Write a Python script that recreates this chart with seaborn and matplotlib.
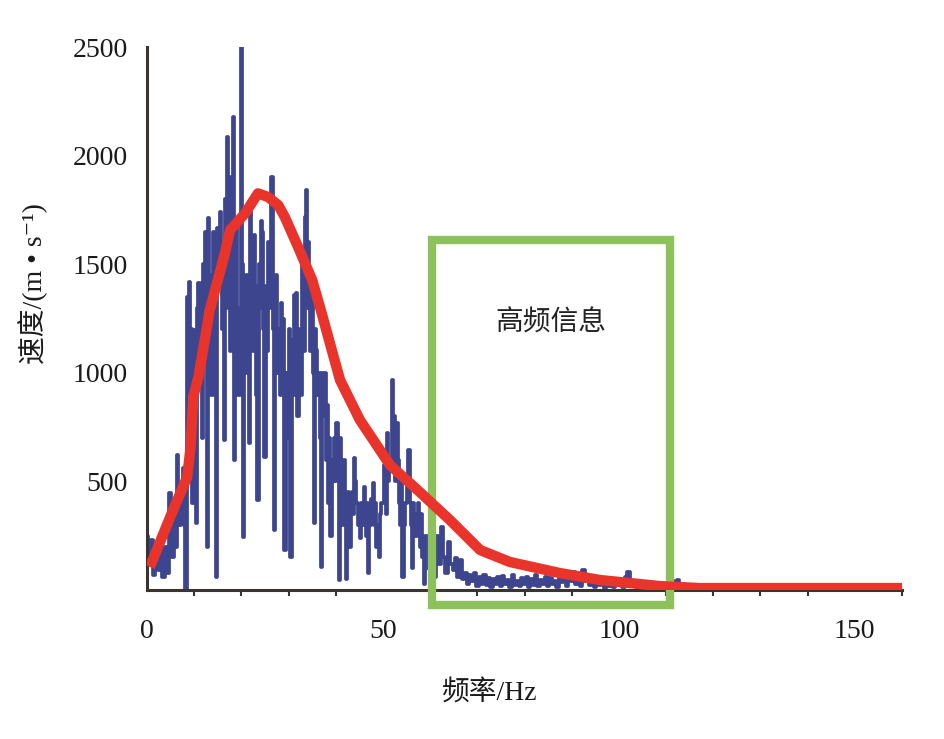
import numpy as np
import pandas as pd
import matplotlib
matplotlib.use("Agg")
import matplotlib.pyplot as plt
import matplotlib.patches as patches
import seaborn as sns

# --- data ---
# blue spectrum: 0-5 Hz every 0.5 Hz
spec_low = [250, 130, 230, 70, 200, 90, 240, 60, 200, 80]
# 5-60 Hz every 0.25 Hz
spec_mid = [
    445, 300, 150, 380, 250, 200, 620, 400, 300, 480,
    350, 560, 300, 0, 1350, 1000, 1420, 900, 1200, 400,
    1197, 1100, 308, 1300, 1413, 1000, 1200, 700, 1500, 1300,
    1648, 198, 1713, 1200, 1450, 900, 1650, 1300, 1100, 60,
    1667, 1400, 1740, 1500, 1200, 1500, 690, 1800, 2086, 1300,
    1600, 1100, 1900, 2178, 600, 1400, 1700, 1100, 900, 1300,
    2500, 1500, 245, 1300, 1450, 1000, 1200, 675, 1763, 1300,
    1100, 1634, 1400, 900, 414, 1500, 1300, 1700, 1648, 1200,
    612, 1400, 1100, 1600, 1300, 1500, 1900, 1200, 276, 1300,
    1450, 1000, 1200, 900, 1321, 1100, 1250, 184, 1000, 700,
    1000, 1200, 152, 1150, 900, 1358, 1100, 1367, 800, 1000,
    1200, 900, 1500, 1100, 1717, 1842, 1300, 1600, 1470, 1100,
    1413, 1000, 308, 1200, 1105, 900, 1000, 700, 106, 1000,
    800, 1000, 600, 850, 400, 700, 250, 600, 500, 700,
    500, 768, 600, 46, 700, 500, 300, 600, 350, 50,
    300, 450, 200, 400, 450, 350, 607, 500, 400, 300,
    350, 240, 400, 300, 475, 350, 250, 400, 80, 300,
    420, 350, 492, 300, 400, 200, 300, 150, 350, 400,
    400, 575, 450, 350, 722, 500, 600, 550, 967, 700,
    800, 500, 768, 600, 400, 300, 500, 60, 300, 400,
    400, 500, 645, 400, 300, 100, 400, 350, 250, 350,
    400, 300, 200, 350, 150, 30, 250, 200, 100, 250,
]
# 60-115 Hz every 0.5 Hz
spec_high = [
    100, 200, 60, 250, 120, 290, 150, 80, 220, 120,
    90, 147, 60, 140, 50, 80, 30, 70, 40, 80,
    20, 60, 30, 70, 25, 55, 15, 50, 30, 60,
    20, 65, 30, 45, 15, 70, 25, 40, 20, 55,
    30, 60, 15, 50, 25, 70, 20, 45, 30, 60,
    20, 55, 30, 40, 15, 65, 35, 50, 20, 60,
    40, 83, 30, 60, 20, 92, 40, 50, 25, 45,
    15, 40, 25, 50, 10, 35, 20, 45, 15, 30,
    25, 40, 15, 60, 83, 40, 20, 35, 10, 30,
    20, 35, 10, 25, 15, 30, 10, 20, 5, 25,
    10, 30, 15, 40, 20, 46, 10, 25, 5, 15, 0,
]
freq = np.concatenate([np.arange(0, 5, 0.5), np.arange(5, 60, 0.25),
                       np.arange(60, 115.5, 0.5)])
spectrum = spec_low + spec_mid + spec_high

# red smoothed envelope
env_freq = [0.6, 4.9, 8.5, 9.2, 9.8, 10.9, 13.3, 16.5, 17.6, 20.8, 23.5, 25.6,
            27.8, 29.2, 32, 35, 37, 40.9, 45.1, 51.5, 57.8, 64.2, 70.6, 76.9,
            87.5, 96, 108.7, 117, 160.6]
env_val = [106, 336, 520, 650, 890, 982, 1289, 1550, 1657, 1735, 1826, 1810,
           1772, 1717, 1580, 1427, 1275, 967, 783, 575, 451, 322, 184, 129,
           78, 46, 18, 9, 9]

# high-frequency window
band_lo, band_hi = 60.4, 110.8
band_bottom, band_top = -70, 1610

spec_df = pd.DataFrame({"freq": freq, "speed": spectrum})
env_df = pd.DataFrame({"freq": env_freq, "speed": env_val})

sns.set_theme(style="white")
plt.rcParams["font.family"] = ["Liberation Serif", "Noto Sans CJK SC", "DejaVu Sans"]

fig = plt.figure(figsize=(9.45, 7.39), dpi=100)
ax = fig.add_axes([0.1556, 0.2016, 0.7989, 0.7348])

sns.lineplot(data=spec_df, x="freq", y="speed", ax=ax, color="#3D458E",
             linewidth=2.7, drawstyle="steps-mid", zorder=2)

rect = patches.Rectangle((band_lo, band_bottom), band_hi - band_lo, band_top - band_bottom,
                         fill=False, edgecolor="#8DC15B", linewidth=6, clip_on=False, zorder=3)
ax.add_patch(rect)

sns.lineplot(data=env_df, x="freq", y="speed", ax=ax, color="#E8342B",
             linewidth=7.5, zorder=4, solid_capstyle="butt")

ax.text((band_lo + band_hi) / 2, 1230, "高频信息", ha="center", va="center",
        fontsize=20, color="#222222", family=["Noto Sans CJK SC", "DejaVu Sans"])

ax.set_xlim(0, 160)
ax.set_ylim(0, 2500)
ax.set_xticks([0, 50, 100, 150])
ax.set_xticks(np.arange(0, 161, 10), minor=True)
ax.set_yticks([500, 1000, 1500, 2000, 2500])

for s in ["top", "right"]:
    ax.spines[s].set_visible(False)
for s in ["left", "bottom"]:
    ax.spines[s].set_color("#3A3431")
    ax.spines[s].set_linewidth(2.2)

ax.tick_params(axis="both", which="major", direction="out", length=6, width=2,
               color="#3A3431", labelsize=20, labelcolor="#1a1a1a")
ax.tick_params(axis="x", which="major", length=8, pad=13)
ax.tick_params(axis="x", which="minor", direction="out", length=4, width=1.5,
               color="#3A3431", bottom=True)
ax.tick_params(axis="y", which="major", pad=8)

ax.set_xlabel("频率/Hz", fontsize=20, color="#1a1a1a")
ax.set_ylabel("速度/(m • s⁻¹)", fontsize=20, color="#1a1a1a")
ax.xaxis.set_label_coords(0.454, -0.165)
ax.yaxis.set_label_coords(-0.131, 0.565)

fig.savefig("out.png", dpi=100, facecolor="white")
